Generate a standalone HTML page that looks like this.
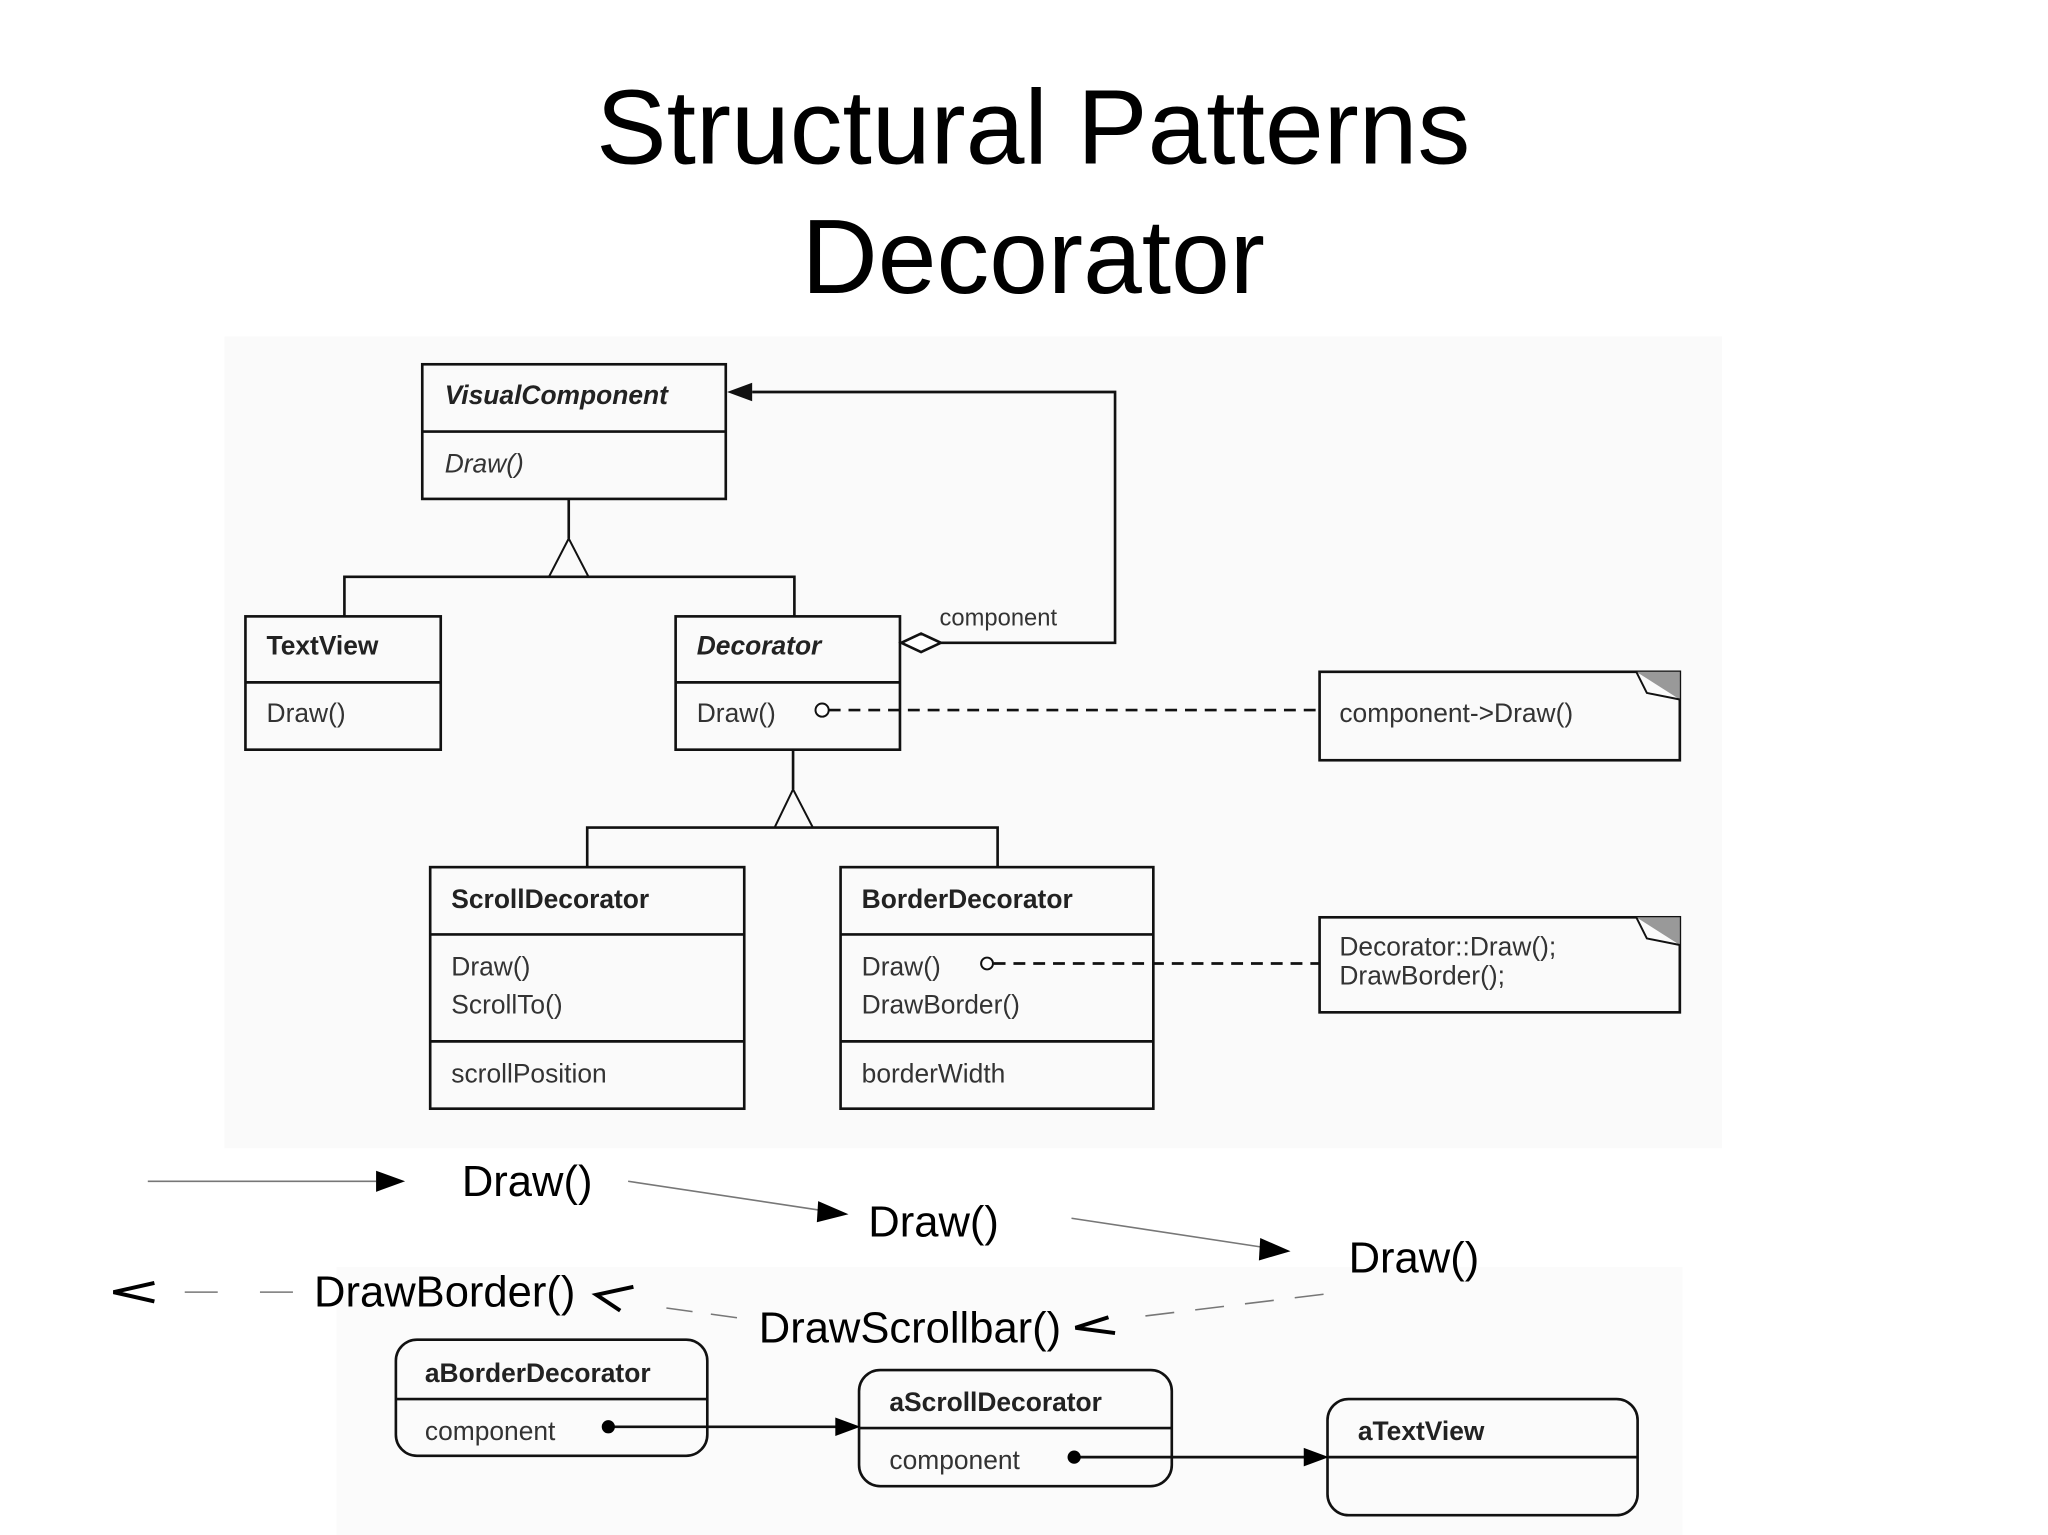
<!DOCTYPE html>
<html><head><meta charset="utf-8"><style>
html,body{margin:0;padding:0;background:#fff;}
svg{display:block;}
text{font-family:"Liberation Sans",Arial,sans-serif;}
.l{font-size:20px;fill:#333;}
.b{font-size:20px;font-weight:bold;fill:#222;}
.bi{font-size:20px;font-weight:bold;font-style:italic;fill:#222;}
.big{font-size:33px;fill:#000;}
</style></head><body>
<svg width="2048" height="1535" viewBox="0 0 1552 1163" preserveAspectRatio="none" xmlns="http://www.w3.org/2000/svg">
<rect x="0" y="0" width="1552" height="1163" fill="#fff"/>
<rect x="170" y="255" width="1135" height="615" fill="#fafafa"/>
<rect x="255" y="960" width="1020" height="203" fill="#fbfbfb"/>
<text x="783" y="124" text-anchor="middle" style="font-size:80px" fill="#000">Structural Patterns</text>
<text x="783" y="222" text-anchor="middle" style="font-size:80px" fill="#000">Decorator</text>

<g stroke="#111" stroke-width="2" fill="none">
<rect x="320" y="276" width="230" height="102"/><line x1="320" y1="327" x2="550" y2="327"/>
<rect x="186" y="467" width="148" height="101"/><line x1="186" y1="517" x2="334" y2="517"/>
<rect x="512" y="467" width="170" height="101"/><line x1="512" y1="517" x2="682" y2="517"/>
<rect x="326" y="657" width="238" height="183"/><line x1="326" y1="708" x2="564" y2="708"/><line x1="326" y1="789" x2="564" y2="789"/>
<rect x="637" y="657" width="237" height="183"/><line x1="637" y1="708" x2="874" y2="708"/><line x1="637" y1="789" x2="874" y2="789"/>
<rect x="1000" y="509" width="273" height="67"/>
<rect x="1000" y="695" width="273" height="72"/>
<polyline points="431,378 431,408"/>
<polygon points="431,408 416,437 446,437" stroke-width="1.5"/>
<polyline points="261,467 261,437 602,437 602,467"/>
<polyline points="601,568 601,598"/>
<polygon points="601,598 587,627 616,627" stroke-width="1.5"/>
<polyline points="445,657 445,627 756,627 756,657"/>
<polyline points="570,297 845,297 845,487 713,487"/>
<polygon points="683,487 698,480 713,487 698,494" fill="#fff"/>
<line x1="628" y1="538" x2="1000" y2="538" stroke-dasharray="9,6"/>
<circle cx="623" cy="538" r="5" fill="#fff" stroke-width="1.5"/>
<line x1="753" y1="730" x2="1000" y2="730" stroke-dasharray="9,6"/>
<circle cx="748" cy="730" r="4.5" fill="#fff" stroke-width="1.5"/>
</g>
<polygon points="551,297 570,290 570,304" fill="#111"/>
<polygon points="1240,509 1273,509 1273,530" fill="#999"/>
<polyline points="1240,509 1248,525 1273,530" fill="none" stroke="#111" stroke-width="1.5"/>
<polygon points="1240,695 1273,695 1273,716" fill="#999"/>
<polyline points="1240,695 1248,711 1273,716" fill="none" stroke="#111" stroke-width="1.5"/>

<text x="337" y="306" class="bi">VisualComponent</text>
<text x="337" y="358" class="l" font-style="italic">Draw()</text>
<text x="202" y="496" class="b">TextView</text>
<text x="202" y="547" class="l">Draw()</text>
<text x="528" y="496" class="bi">Decorator</text>
<text x="528" y="547" class="l">Draw()</text>
<text x="712" y="474" class="l" style="font-size:18px">component</text>
<text x="1015" y="547" class="l">component-&gt;Draw()</text>
<text x="342" y="688" class="b">ScrollDecorator</text>
<text x="342" y="739" class="l">Draw()</text>
<text x="342" y="768" class="l">ScrollTo()</text>
<text x="342" y="820" class="l">scrollPosition</text>
<text x="653" y="688" class="b">BorderDecorator</text>
<text x="653" y="739" class="l">Draw()</text>
<text x="653" y="768" class="l">DrawBorder()</text>
<text x="653" y="820" class="l">borderWidth</text>
<text x="1015" y="724" class="l">Decorator::Draw();</text>
<text x="1015" y="746" class="l">DrawBorder();</text>

<!-- bottom sequence -->
<g stroke="#777" stroke-width="1.2" fill="none">
<line x1="112" y1="895" x2="285" y2="895"/>
<line x1="476" y1="895" x2="622" y2="917"/>
<line x1="812" y1="923" x2="957" y2="945"/>
<line x1="140" y1="979" x2="165" y2="979"/>
<line x1="197" y1="979" x2="222" y2="979"/>
<line x1="505" y1="991" x2="570" y2="1000" stroke-dasharray="20,14"/>
<line x1="868" y1="997" x2="1008" y2="980" stroke-dasharray="22,16"/>
</g>
<polygon points="285,887 307,895 285,903" fill="#000"/>
<polygon points="620,910 643,920 619,926" fill="#000"/>
<polygon points="955,938 978,948 954,955" fill="#000"/>
<text x="350" y="906" class="big">Draw()</text>
<text x="658" y="937" class="big">Draw()</text>
<text x="1022" y="964" class="big">Draw()</text>
<polyline points="117,972 86,979 117,986" fill="none" stroke="#000" stroke-width="3"/>
<text x="238" y="990" class="big">DrawBorder()</text>
<polyline points="480,975 452,981 470,993" fill="none" stroke="#000" stroke-width="3"/>
<text x="575" y="1017" class="big">DrawScrollbar()</text>
<polyline points="840,998 815,1006 845,1010" fill="none" stroke="#000" stroke-width="3"/>

<g stroke="#111" stroke-width="2" fill="none">
<rect x="300" y="1015" width="236" height="88" rx="16"/><line x1="300" y1="1060" x2="536" y2="1060"/>
<rect x="651" y="1038" width="237" height="88" rx="16"/><line x1="651" y1="1082" x2="888" y2="1082"/>
<rect x="1006" y="1060" width="235" height="88" rx="16"/><line x1="1006" y1="1104" x2="1241" y2="1104"/>
<line x1="461" y1="1081" x2="634" y2="1081"/>
<line x1="814" y1="1104" x2="990" y2="1104"/>
</g>
<circle cx="461" cy="1081" r="5" fill="#000"/>
<circle cx="814" cy="1104" r="5" fill="#000"/>
<polygon points="652,1081 633,1074 633,1088" fill="#000"/>
<polygon points="1007,1104 988,1097 988,1111" fill="#000"/>
<text x="322" y="1047" class="b">aBorderDecorator</text>
<text x="322" y="1091" class="l">component</text>
<text x="674" y="1069" class="b">aScrollDecorator</text>
<text x="674" y="1113" class="l">component</text>
<text x="1029" y="1091" class="b">aTextView</text>
</svg>
</body></html>
